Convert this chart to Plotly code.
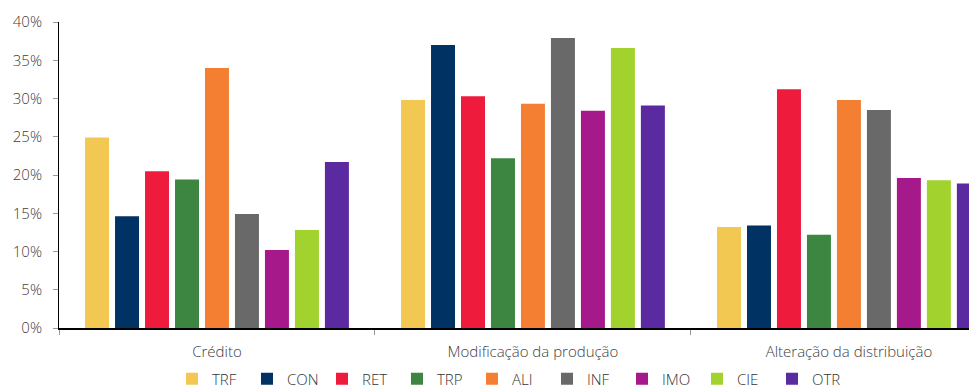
import plotly.graph_objects as go

categories = ["Crédito", "Modificação da produção", "Alteração da distribuição"]
series_names = ["TRF", "CON", "RET", "TRP", "ALI", "INF", "IMO", "CIE", "OTR"]
TRF = [24.9, 29.8, 13.2]
CON = [14.6, 37.0, 13.4]
RET = [20.5, 30.3, 31.2]
TRP = [19.4, 22.2, 12.2]
ALI = [34.0, 29.3, 29.8]
INF = [14.9, 37.9, 28.5]
IMO = [10.2, 28.4, 19.6]
CIE = [12.8, 36.6, 19.3]
OTR = [21.7, 29.1, 18.9]
values = [TRF, CON, RET, TRP, ALI, INF, IMO, CIE, OTR]
colors = ["#F2C752", "#003263", "#EE1B3C", "#3D8641", "#F47F33",
          "#696969", "#A6198B", "#A1D22E", "#5C2AA0"]

fig = go.Figure()
for name, vals, col in zip(series_names, values, colors):
    fig.add_trace(go.Bar(
        x=categories, y=[v / 100 for v in vals], name=name,
        marker=dict(color=col, line=dict(width=0)),
    ))

font_family = "Open Sans"
fig.update_layout(
    width=969, height=388,
    margin=dict(l=59, r=0, t=22, b=60),
    paper_bgcolor="white", plot_bgcolor="white",
    barmode="group", bargap=0.146, bargroupgap=0.2,
    font=dict(family=font_family, size=15, color="#404040", weight=300),
    showlegend=True,
    legend=dict(orientation="h", xref="container", yref="container",
                x=(180 - 8) / 969, xanchor="left", y=(388 - 379) / 388, yanchor="middle",
                font=dict(size=15, color="#333333", weight=300), entrywidth=30,
                traceorder="normal", bgcolor="rgba(0,0,0,0)"),
    xaxis=dict(range=[-0.5, 2.38], showline=True, linecolor="black", linewidth=1.5,
               ticks="outside", tickson="boundaries", ticklen=5, tickcolor="#999999",
               ticklabelstandoff=9,
               showgrid=False, tickfont=dict(size=15, color="#404040", weight=300)),
    yaxis=dict(range=[0, 0.4], dtick=0.05, tickformat=".0%", showline=True,
               linecolor="black", linewidth=1, ticks="outside", ticklen=5,
               tickcolor="#999999", showgrid=False, zeroline=False,
               ticklabelstandoff=8,
               tickfont=dict(size=15, color="#404040", weight=300)),
)
fig.write_html("out.html")
